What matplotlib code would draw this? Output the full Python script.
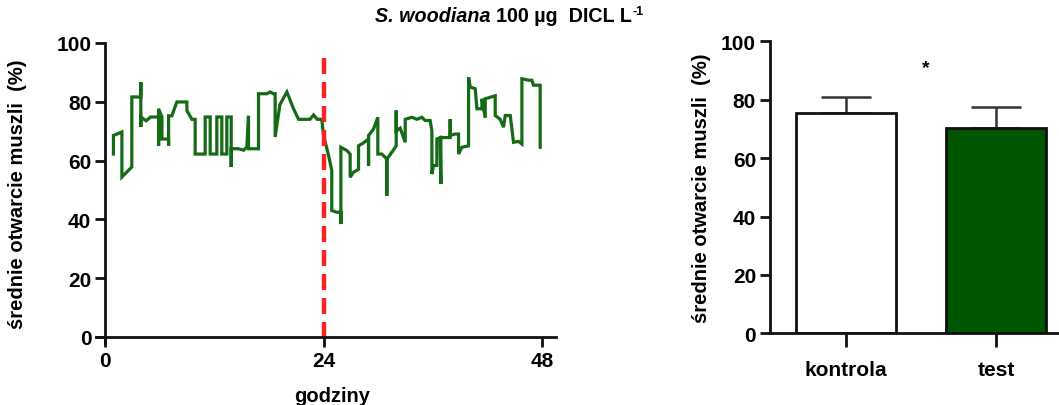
import matplotlib.pyplot as plt

plt.rcParams['font.family'] = ['Liberation Sans', 'DejaVu Sans']
plt.rcParams['font.weight'] = 'bold'

# shell opening over time (hours, %)
hours = [0.91, 0.91, 1.84, 1.84, 2.93, 2.93, 3.92, 3.92, 3.92, 3.92, 4.5, 5.0, 5.87, 5.87, 5.87,
         6.24, 6.24, 6.97, 6.97, 6.97, 7.33, 7.88, 8.98, 8.98, 9.53, 9.89, 9.89, 10.99, 10.99,
         11.54, 11.54, 12.27, 12.27, 12.82, 12.82, 13.37, 13.37, 13.85, 13.85, 13.85, 14.65,
         15.2, 15.57, 15.75, 15.75, 16.85, 16.85, 17.77, 18.13, 18.5, 18.68, 18.68, 19.2, 19.97,
         20.7, 21.25, 22.5, 22.9, 23.3, 23.8,
         24.0, 24.55, 24.9, 24.9, 25.46, 25.9, 25.9, 25.9, 26.55, 26.92, 26.92, 27.28, 27.84,
         27.84, 28.39, 28.94, 28.94, 28.94, 29.49, 29.96, 29.96, 30.4, 30.95, 30.95, 30.95,
         31.5, 31.98, 31.98, 31.98, 32.42, 32.97, 32.97, 33.7, 34.25, 34.8, 35.16, 35.71, 35.9,
         35.9, 36.08, 36.45, 36.45, 36.81, 36.89, 36.89, 37.17, 37.91, 37.91, 37.91, 38.46,
         38.83, 38.83, 39.2, 39.93, 39.93, 40.11, 40.66, 40.85, 41.4, 41.4, 41.76, 41.76, 42.86,
         42.86, 43.41, 43.77, 43.96, 44.51, 44.87, 45.42, 45.79, 45.79, 46.52, 46.89, 47.06,
         47.8, 47.8]
opening = [62.2, 68.5, 69.7, 54.4, 57.8, 81.6, 81.6, 86.7, 71.4, 74.8, 73.5, 74.8, 74.8, 65, 77.6,
           74.8, 67.3, 67.3, 65, 75.2, 75.2, 79.9, 79.9, 77, 74, 74, 62.2, 62.2, 74.8,
           74.8, 62.2, 62.2, 74.8, 74.8, 62.2, 62.2, 74.8, 74.8, 57.8, 64, 64,
           63.5, 64.6, 75.2, 64, 64, 82.7, 82.7, 83.3, 82.7, 82.7, 68, 79, 83.3,
           77.6, 74, 74, 75.5, 74, 74,
           68.5, 61.7, 56.6, 43, 42.4, 42.4, 38.4, 64.5, 63.4, 62.2, 54.3, 56, 57,
           65, 66, 67.3, 58.3, 68.5, 70.7, 74.7, 62.2, 62.2, 60.5, 48, 60.5,
           62.8, 65, 77, 70, 71, 66.2, 74, 74.7, 74, 74.7, 73.6, 73.6, 70,
           55.4, 58.3, 58.3, 67.3, 67.8, 52, 67.8, 67.8, 67.8, 74, 68.5, 69,
           69, 62.2, 64.5, 65, 88.3, 85, 84.4, 77.6, 77.6, 81, 74.5, 81, 82,
           75.3, 74, 71.3, 75.3, 75.3, 66.2, 66.5, 65.6, 87.8, 87.3, 87.3, 85.6,
           85.6, 64.5]
exposure_start = 24

# mean opening per group
groups = ['kontrola', 'test']
means = [75.4, 70.2]
sd_upper = [5.6, 7.2]

green_line = '#156a15'
green_bar = '#005600'
ylab = 'średnie otwarcie muszli  (%)'

fig = plt.figure(figsize=(10.59, 4.06), dpi=100)

# --- time course ---
ax1 = fig.add_axes([0.0907, 0.153, 0.434, 0.739])
ax1.plot(hours, opening, color=green_line, lw=2.3, solid_joinstyle='miter')
# dashed marker of exposure start, drawn top-down so the pattern starts with a dash
ax1.plot([exposure_start, exposure_start], [95, -1], color='#ff2222', lw=3.2,
         dashes=(3.6, 1.8))
ax1.set_xlim(-1, 49.5)
ax1.set_ylim(-2, 100)
ax1.spines['left'].set_position(('data', 0))
ax1.spines['bottom'].set_position(('data', 0))
ax1.set_xticks([0, 24, 48])
ax1.set_yticks([0, 20, 40, 60, 80, 100])
ax1.set_xlabel('godziny', fontsize=14.5, fontweight='bold', va='top')
ax1.xaxis.set_label_coords(0.514, -0.145)
ax1.set_ylabel(ylab, fontsize=14.5, fontweight='bold')
ax1.yaxis.set_label_coords(-0.15, 0.5)

# --- group means ---
ax2 = fig.add_axes([0.727, 0.1766, 0.273, 0.719])
ax2.bar([0, 1], means, width=0.667, color=['white', green_bar],
        edgecolor='#111111', linewidth=2, zorder=2)
ax2.errorbar([0, 1], means, yerr=[[0, 0], sd_upper], fmt='none',
             ecolor='#333333', elinewidth=1.8, capsize=18, capthick=1.8, zorder=1)
ax2.text(0.53, 91, '*', ha='center', va='center', fontsize=14, fontweight='bold')
ax2.set_xlim(-0.507, 1.42)
ax2.set_ylim(0, 100)
ax2.set_xticks([0, 1])
ax2.set_xticklabels(groups)
ax2.set_yticks([0, 20, 40, 60, 80, 100])
ax2.set_ylabel(ylab, fontsize=14.5, fontweight='bold')
ax2.yaxis.set_label_coords(-0.205, 0.5)

for ax in (ax1, ax2):
    for side in ('top', 'right'):
        ax.spines[side].set_visible(False)
    for side in ('left', 'bottom'):
        ax.spines[side].set_linewidth(2)
        ax.spines[side].set_color('#111111')
    ax.tick_params(direction='out', length=7, width=2, color='#111111',
                   labelsize=15, pad=3)
    for lab in ax.get_xticklabels() + ax.get_yticklabels():
        lab.set_fontweight('bold')
ax2.tick_params(axis='x', length=10, labelsize=15, pad=9)

# title: species in bold italic, dose in bold, unit exponent raised
renderer = fig.canvas.get_renderer()
x0, ty = 375, 406 - 17
t1 = fig.text(x0, ty, 'S. woodiana ', fontsize=14.2, fontweight='bold', style='italic',
              ha='left', va='center', transform=None)
x1 = t1.get_window_extent(renderer).x1
t2 = fig.text(x1, ty, '100 µg  DICL L', fontsize=14.2, fontweight='bold',
              ha='left', va='center', transform=None)
x2 = t2.get_window_extent(renderer).x1
fig.text(x2 + 1, ty + 5, '-1', fontsize=9, fontweight='bold',
         ha='left', va='center', transform=None)

fig.savefig('out.png', dpi=100)
